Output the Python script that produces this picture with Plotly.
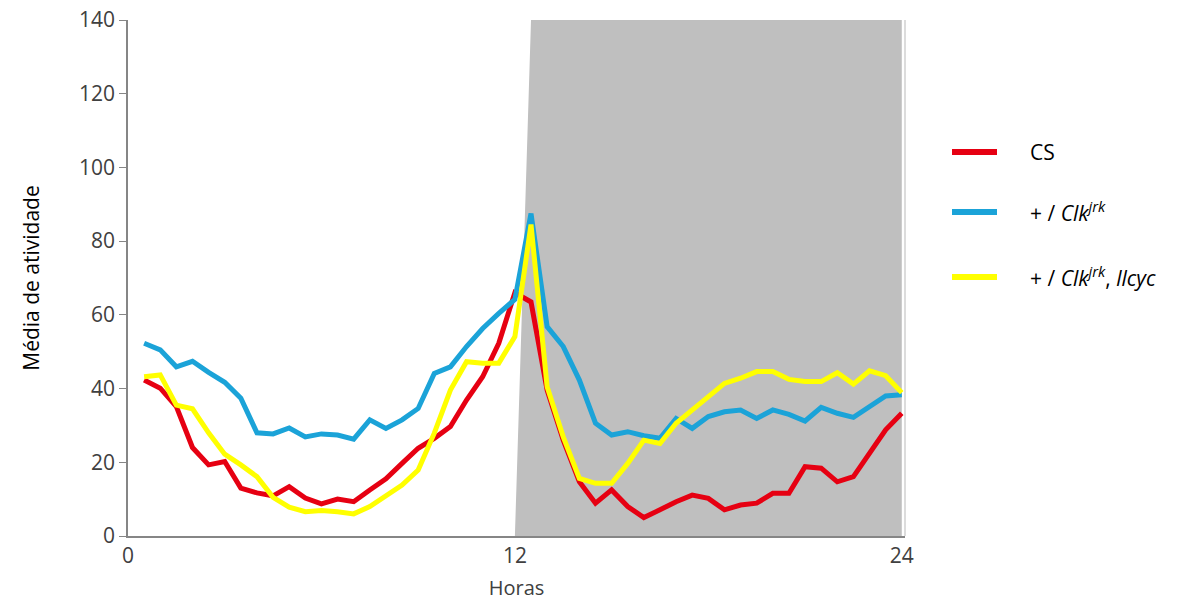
import plotly.graph_objects as go

# Time of day (hours), sampled every half hour
hours = [0.5 * k for k in range(1, 49)]

# Mean activity per genotype
cs = [42.3, 40.1, 35.1, 24.0, 19.3, 20.2, 13.0, 11.7, 10.9, 13.4, 10.3, 8.7,
      10.0, 9.3, 12.5, 15.5, 19.7, 23.8, 26.5, 29.7, 36.9, 43.2, 52.3, 66.0,
      63.5, 39.6, 26.0, 14.7, 8.9, 12.5, 8.0, 5.0, 7.1, 9.3, 11.1, 10.2,
      7.1, 8.4, 8.9, 11.6, 11.6, 18.8, 18.4, 14.7, 16.1, 22.4, 28.8, 33.3]
clk_jrk = [52.3, 50.5, 45.9, 47.4, 44.4, 41.7, 37.4, 28.0, 27.7, 29.3, 26.9, 27.7,
           27.4, 26.3, 31.5, 29.2, 31.5, 34.6, 44.1, 45.9, 51.4, 56.3, 60.4, 64.2,
           87.5, 56.8, 51.4, 42.3, 30.6, 27.4, 28.3, 27.2, 26.5, 31.9, 29.2, 32.4,
           33.7, 34.2, 31.9, 34.2, 33.0, 31.2, 34.9, 33.3, 32.2, 35.3, 38.0, 38.3]
clk_jrk_llcyc = [43.2, 43.7, 35.5, 34.5, 28.0, 22.2, 19.3, 16.1, 10.5, 7.8, 6.6, 6.9,
                 6.6, 6.0, 8.0, 10.9, 13.8, 17.9, 27.9, 39.6, 47.3, 46.9, 46.9, 54.1,
                 84.5, 40.5, 26.9, 15.6, 14.3, 14.3, 19.7, 26.0, 25.1, 30.6, 34.2, 37.8,
                 41.4, 42.8, 44.6, 44.6, 42.5, 41.9, 41.9, 44.3, 41.2, 44.8, 43.5, 38.9]

# Dark phase outline
dark_x = [12, 12.5, 24, 24]
dark_y = [0, 140, 140, 0]

x_ticks = [0, 12, 24]
y_ticks = [0, 20, 40, 60, 80, 100, 120, 140]

series = [
    ("CS", cs, "#e60012"),
    ("+ / <i>Clk</i><sup><i>jrk</i></sup>", clk_jrk, "#1ba3d8"),
    ("+ / <i>Clk</i><sup><i>jrk</i></sup>, <i>llcyc</i>", clk_jrk_llcyc, "#ffff00"),
]

FONT = "Open Sans"

fig = go.Figure()

fig.add_trace(go.Scatter(
    x=dark_x, y=dark_y, mode="lines", fill="toself",
    fillcolor="#bfbfbf", line=dict(width=0), hoverinfo="skip", showlegend=False,
))

for name, values, color in series:
    fig.add_trace(go.Scatter(
        x=hours, y=values, mode="lines", name=name,
        line=dict(color=color, width=5), showlegend=False,
    ))

# Hand-placed legend to the right of the plot area
legend_y = [0.744, 0.628, 0.502]
for (name, _, color), ly in zip(series, legend_y):
    fig.add_shape(type="line", xref="paper", yref="paper",
                  x0=1.0605, x1=1.1184, y0=ly, y1=ly,
                  line=dict(color=color, width=6))
    fig.add_annotation(xref="paper", yref="paper", x=1.158, y=ly,
                       xanchor="left", yanchor="middle", text=name,
                       showarrow=False, font=dict(family=FONT, size=21, color="#000000"))

# Thin right border of the plot area
fig.add_shape(type="line", xref="paper", yref="paper", x0=1, x1=1, y0=0, y1=1,
              line=dict(color="#d0d0d0", width=1.5))

fig.update_layout(
    width=1193, height=601,
    margin=dict(l=128, r=288, t=20, b=65),
    paper_bgcolor="white", plot_bgcolor="white",
    font=dict(family=FONT, size=21, color="#404040"),
    xaxis=dict(
        range=[0, 24.1], tickmode="array", tickvals=x_ticks,
        ticktext=[str(t) for t in x_ticks], automargin=False,
        showgrid=False, zeroline=False, showline=True,
        linecolor="#868686", linewidth=1.5, ticks="",
        title=dict(text="Horas", font=dict(family=FONT, size=20, color="#404040"), standoff=14),
    ),
    yaxis=dict(
        range=[0, 140], tickmode="array", tickvals=y_ticks, automargin=False,
        showgrid=False, zeroline=False, showline=True,
        linecolor="#868686", linewidth=1.5, ticks="outside", ticklen=7,
        tickcolor="#868686",
        title=dict(text="Média de atividade", font=dict(family=FONT, size=21, color="#000000"), standoff=34),
    ),
)

fig.write_html("out.html")
